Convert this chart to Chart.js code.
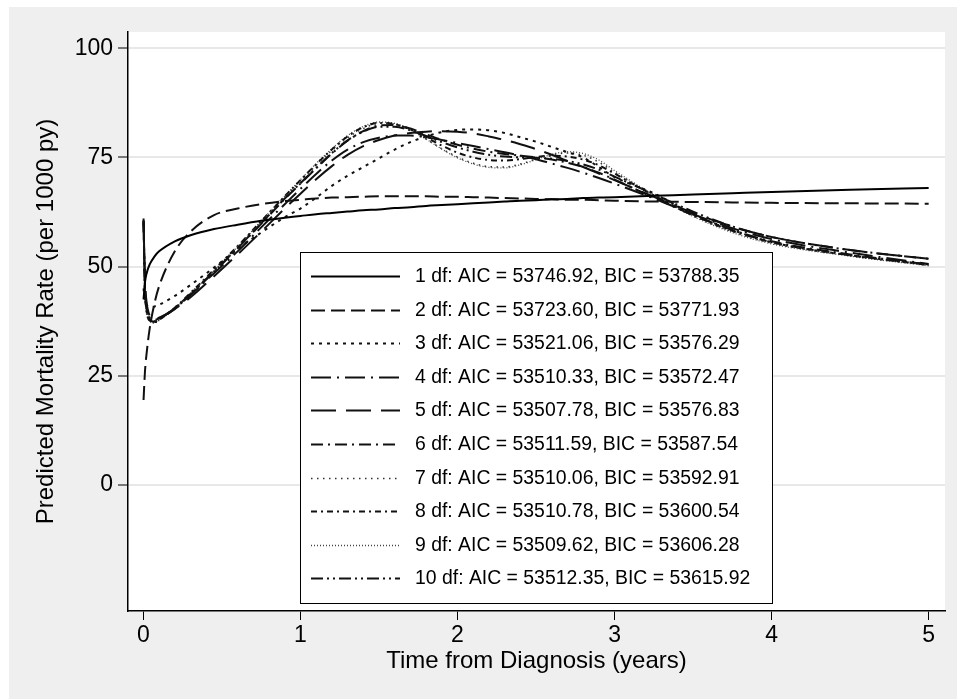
<!DOCTYPE html>
<html><head><meta charset="utf-8">
<script src="https://cdn.jsdelivr.net/npm/chart.js@4.4.1/dist/chart.umd.min.js"></script>
<style>html,body{margin:0;padding:0;background:#fff;overflow:hidden}</style>
</head><body>
<canvas id="c" width="957" height="699" style="display:block;width:957px;height:699px"></canvas>
<script>
// ---- data ----
const times = [0.001, 0.01, 0.02, 0.04, 0.07, 0.1, 0.2, 0.3, 0.45, 0.6, 0.75, 0.9, 1.0, 1.1, 1.2, 1.3, 1.4, 1.5, 1.6, 1.7, 1.8, 1.9, 2.0, 2.1, 2.2, 2.3, 2.4, 2.5, 2.6, 2.7, 2.8, 2.9, 3.0, 3.25, 3.5, 3.75, 4.0, 4.5, 5.0];
const df1  = [42.5, 46.4, 48.4, 50.5, 52.3, 53.5, 55.8, 57.2, 58.6, 59.6, 60.5, 61.2, 61.6, 62.0, 62.3, 62.6, 62.9, 63.1, 63.4, 63.6, 63.9, 64.1, 64.3, 64.5, 64.7, 64.9, 65.1, 65.2, 65.4, 65.5, 65.7, 65.8, 65.9, 66.2, 66.5, 66.8, 67.1, 67.6, 68.0];
const df2  = [19.5, 26.0, 30.0, 35.8, 41.5, 45.5, 53.5, 58.0, 61.8, 63.3, 64.3, 65.0, 65.3, 65.6, 65.8, 65.9, 66.0, 66.1, 66.1, 66.1, 66.1, 66.0, 66.0, 65.9, 65.8, 65.7, 65.6, 65.5, 65.4, 65.3, 65.3, 65.2, 65.1, 64.9, 64.8, 64.7, 64.6, 64.5, 64.4];
const df3  = [45.0, 42.0, 41.2, 40.8, 40.9, 41.3, 43.3, 45.8, 49.8, 54.0, 57.8, 61.3, 63.3, 65.8, 68.5, 70.8, 72.8, 74.8, 76.8, 78.5, 79.8, 80.8, 81.3, 81.4, 81.2, 80.6, 79.6, 78.6, 77.4, 76.2, 75.0, 72.8, 70.5, 66.8, 62.0, 58.4, 55.6, 52.6, 50.5];
const df4  = [60.0, 46.0, 41.0, 38.3, 37.8, 38.2, 40.5, 43.5, 48.5, 53.5, 59.0, 64.3, 67.8, 71.2, 74.3, 76.8, 78.5, 79.5, 80.0, 80.0, 79.6, 79.0, 78.3, 77.6, 76.9, 76.2, 75.4, 74.6, 73.6, 72.6, 71.5, 70.3, 69.0, 65.6, 62.0, 58.8, 56.3, 53.2, 50.6];
const df5  = [60.5, 47.0, 42.0, 38.8, 38.0, 38.3, 40.3, 43.0, 47.8, 52.8, 58.0, 63.3, 66.7, 70.0, 73.0, 75.6, 77.6, 79.0, 80.0, 80.6, 80.9, 81.0, 80.9, 80.5, 79.8, 79.0, 78.0, 76.9, 75.6, 74.2, 72.8, 71.3, 69.8, 66.0, 62.3, 59.2, 56.8, 53.8, 51.8];
const df6  = [60.5, 45.0, 40.2, 37.8, 37.4, 37.9, 40.4, 43.6, 48.8, 54.2, 59.8, 65.5, 69.0, 72.5, 75.9, 78.8, 81.0, 82.3, 82.4, 81.6, 80.3, 79.0, 77.9, 77.0, 76.3, 75.8, 75.4, 75.0, 74.5, 73.8, 72.8, 71.5, 69.9, 65.8, 61.8, 58.4, 55.8, 52.8, 50.5];
const df7  = [60.0, 44.5, 39.8, 37.6, 37.2, 37.8, 40.5, 43.9, 49.2, 54.6, 60.3, 66.0, 69.6, 73.2, 76.6, 79.5, 81.6, 82.8, 82.6, 81.2, 79.2, 77.0, 75.1, 73.7, 72.9, 72.8, 73.5, 74.6, 75.6, 76.0, 75.5, 73.9, 71.6, 66.2, 61.6, 58.0, 55.4, 52.5, 50.3];
const df8  = [60.5, 44.8, 40.0, 37.7, 37.3, 37.9, 40.6, 44.0, 49.3, 54.7, 60.4, 66.1, 69.8, 73.4, 76.8, 79.8, 81.9, 82.9, 82.6, 81.4, 79.6, 77.7, 76.1, 75.0, 74.4, 74.3, 74.6, 75.1, 75.4, 75.2, 74.5, 73.2, 71.3, 66.3, 61.8, 58.2, 55.6, 52.6, 50.4];
const df9  = [60.5, 44.3, 39.6, 37.5, 37.1, 37.7, 40.4, 43.8, 49.1, 54.6, 60.4, 66.2, 69.9, 73.6, 77.0, 80.0, 82.1, 83.1, 82.8, 81.3, 79.2, 76.9, 74.9, 73.5, 72.7, 72.6, 73.3, 74.5, 75.7, 76.3, 75.9, 74.4, 72.0, 66.4, 61.5, 57.8, 55.2, 52.4, 50.2];
const df10 = [61.0, 45.5, 40.5, 38.0, 37.5, 38.0, 40.5, 43.8, 48.9, 54.3, 59.9, 65.6, 69.1, 72.6, 76.0, 78.9, 80.9, 82.0, 82.0, 81.2, 79.9, 78.5, 77.3, 76.3, 75.6, 75.2, 75.0, 74.9, 74.7, 74.2, 73.4, 72.2, 70.6, 66.6, 62.6, 59.2, 56.8, 53.8, 51.8];
const dfNames = ['1 df', '2 df', '3 df', '4 df', '5 df', '6 df', '7 df', '8 df', '9 df', '10 df'];
const aicValues = ['53746.92', '53723.60', '53521.06', '53510.33', '53507.78', '53511.59', '53510.06', '53510.78', '53509.62', '53512.35'];
const bicValues = ['53788.35', '53771.93', '53576.29', '53572.47', '53576.83', '53587.54', '53592.91', '53600.54', '53606.28', '53615.92'];
const xTickValues = [0, 1, 2, 3, 4, 5];
const yTickValues = [0, 25, 50, 75, 100];
const xTitle = 'Time from Diagnosis (years)';
const yTitle = 'Predicted Mortality Rate (per 1000 py)';

// ---- styles ----
const series = [df1, df2, df3, df4, df5, df6, df7, df8, df9, df10];
const dashes = [[], [14, 6], [3, 5], [20, 6, 2, 6], [25, 10], [12, 5, 2, 5], [1.5, 4.5], [6, 4, 2, 4], [1, 2], [12, 4, 2, 4, 2, 4]];
const widths = [2, 2, 2, 2, 2, 2, 1.5, 2, 1.3, 2];
const colors = ['#000', '#111', '#111', '#111', '#111', '#111', '#333', '#111', '#444', '#111'];
const FONT = '"Liberation Sans", Arial, Helvetica, sans-serif';

const datasets = series.map((vals, i) => ({
  label: dfNames[i] + ': AIC = ' + aicValues[i] + ', BIC = ' + bicValues[i],
  data: times.map((t, k) => ({x: t, y: vals[k]})),
  borderColor: colors[i],
  borderWidth: widths[i],
  borderDash: dashes[i],
  pointRadius: 0,
  fill: false,
  cubicInterpolationMode: 'monotone',
  borderCapStyle: 'butt'
}));

const bgPlugin = {
  id: 'bg',
  beforeDraw(chart) {
    const ctx = chart.ctx, a = chart.chartArea;
    ctx.save();
    ctx.fillStyle = '#ffffff';
    ctx.fillRect(0, 0, 957, 699);
    ctx.fillStyle = '#efefef';
    ctx.fillRect(9, 7, 948, 692);
    ctx.fillStyle = '#ffffff';
    ctx.fillRect(a.left, a.top, a.right - a.left, a.bottom - a.top);
    ctx.restore();
  }
};

const legendPlugin = {
  id: 'stataLegend',
  afterDatasetsDraw(chart) {
    const ctx = chart.ctx;
    const bx = 300, by = 252, bw = 472, bh = 351;
    ctx.save();
    ctx.fillStyle = '#fff';
    ctx.fillRect(bx, by, bw, bh);
    ctx.strokeStyle = '#000';
    ctx.lineWidth = 1;
    ctx.strokeRect(bx + 0.5, by + 0.5, bw, bh);
    chart.data.datasets.forEach((ds, i) => {
      const y = Math.round(276 + i * 33.6) + 0.5;
      ctx.beginPath();
      ctx.setLineDash(ds.borderDash || []);
      ctx.lineWidth = ds.borderWidth;
      ctx.strokeStyle = ds.borderColor;
      ctx.moveTo(311, y);
      ctx.lineTo(400, y);
      ctx.stroke();
      ctx.setLineDash([]);
      ctx.fillStyle = '#000';
      ctx.font = '19.4px ' + FONT;
      ctx.textBaseline = 'middle';
      ctx.textAlign = 'left';
      ctx.fillText(ds.label, 415, y);
    });
    ctx.restore();
  }
};

new Chart(document.getElementById('c'), {
  type: 'line',
  data: {datasets},
  options: {
    responsive: false,
    animation: false,
    devicePixelRatio: 1,
    layout: {padding: {left: 0, top: 32, right: 12, bottom: 0}},
    plugins: {legend: {display: false}, tooltip: {enabled: false}},
    scales: {
      x: {
        type: 'linear',
        min: -0.098, max: 5.104,
        afterBuildTicks: s => { s.ticks = xTickValues.map(v => ({value: v})); },
        afterFit: s => { s.height = 88; },
        grid: {drawOnChartArea: false, drawTicks: true, tickLength: 9, tickColor: '#000', tickWidth: 1},
        border: {display: true, color: '#000', width: 1.5},
        ticks: {color: '#000', font: {family: FONT, size: 23}, padding: 2, maxRotation: 0, autoSkip: false},
        title: {display: true, text: xTitle, color: '#000', font: {family: FONT, size: 24}, padding: {top: 0, bottom: 23}}
      },
      y: {
        type: 'linear',
        min: -28.8, max: 103.7,
        afterBuildTicks: s => { s.ticks = yTickValues.map(v => ({value: v})); },
        afterFit: s => { s.width = 128; },
        grid: {color: '#e8e8e8', lineWidth: 2, drawTicks: true, tickLength: 10, tickColor: '#000', tickWidth: 1},
        border: {display: true, color: '#000', width: 1.5},
        ticks: {color: '#000', font: {family: FONT, size: 23}, padding: 5, autoSkip: false},
        title: {display: true, text: yTitle, color: '#000', font: {family: FONT, size: 24}, padding: {top: 32, bottom: 0}}
      }
    }
  },
  plugins: [bgPlugin, legendPlugin]
});
</script>
</body></html>
